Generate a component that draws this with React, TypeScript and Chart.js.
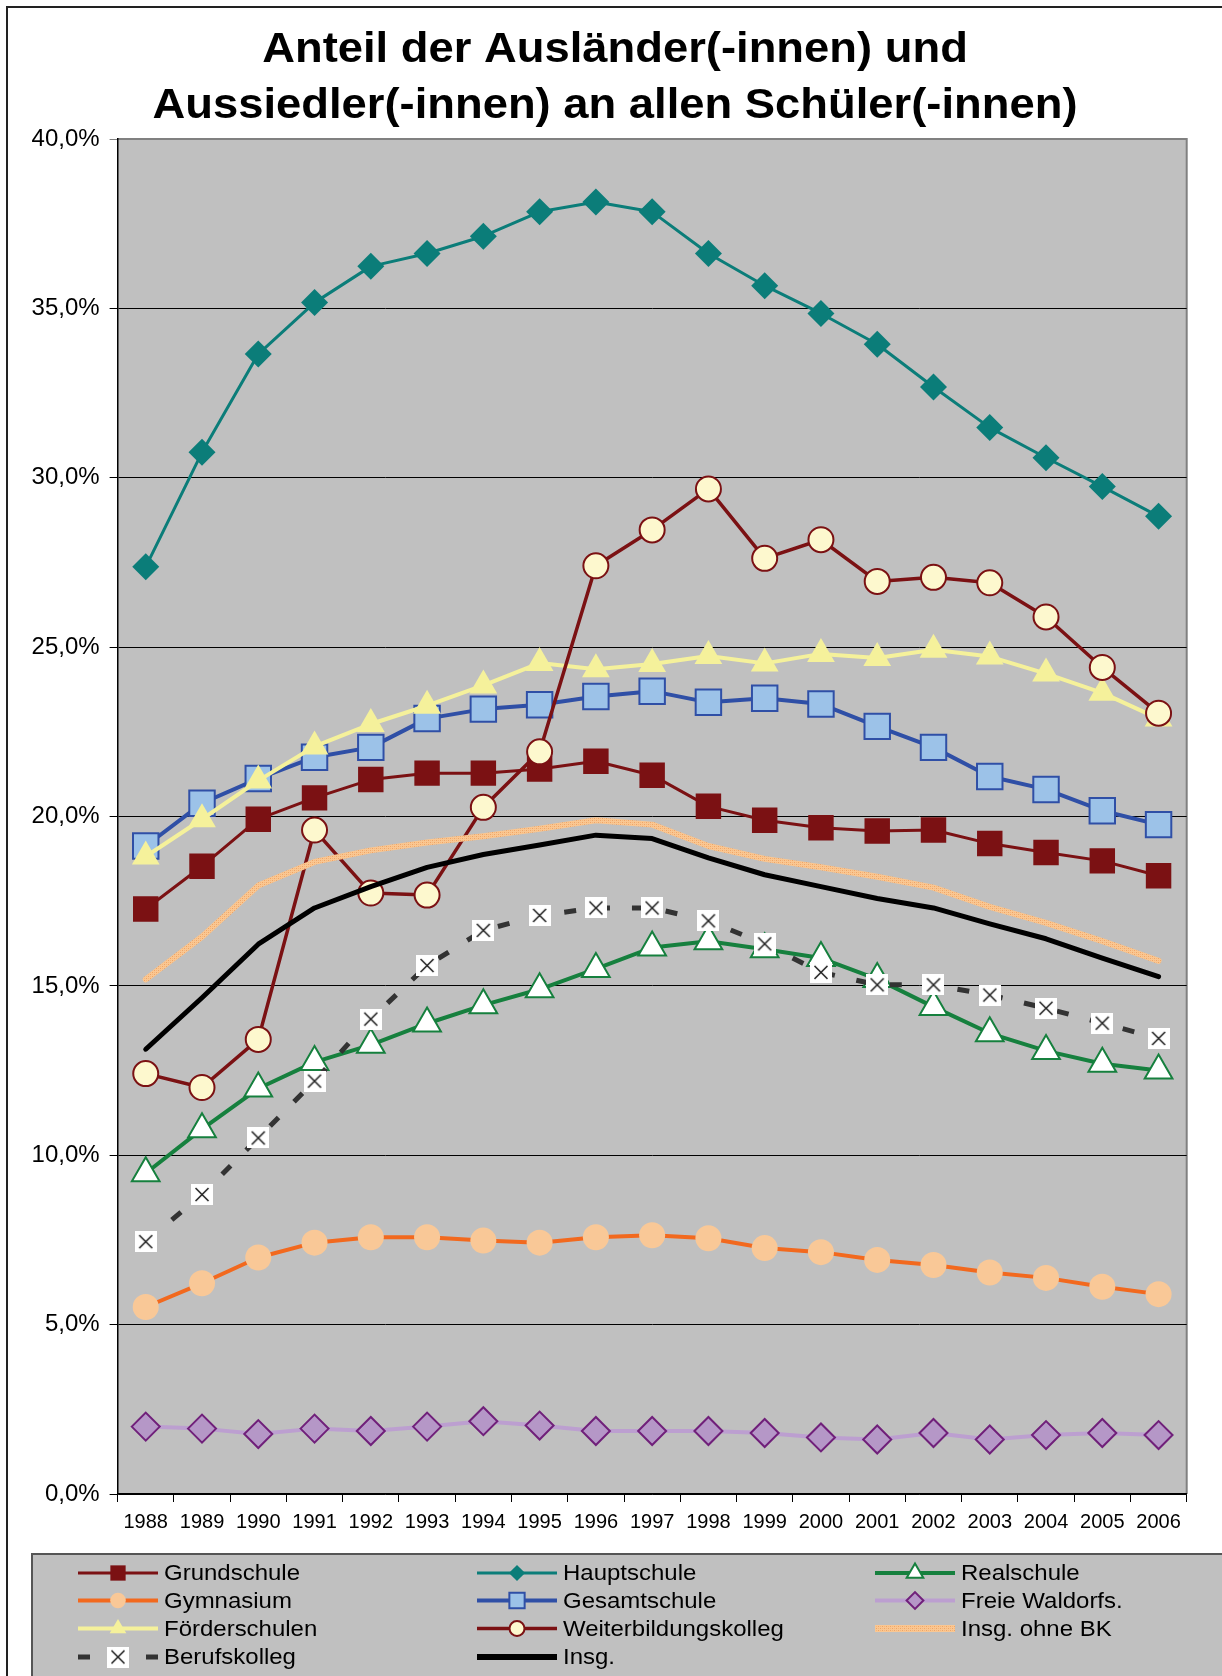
import React, { useEffect, useRef } from 'react';
import { Chart, registerables } from 'chart.js';
import { drawPoint } from 'chart.js/helpers';

Chart.register(...registerables);

const years = ['1988', '1989', '1990', '1991', '1992', '1993', '1994', '1995', '1996', '1997', '1998', '1999', '2000', '2001', '2002', '2003', '2004', '2005', '2006'];
const titleLines = ['Anteil der Ausländer(-innen) und', 'Aussiedler(-innen) an allen Schüler(-innen)'];
const yMin = 0;
const yMax = 40;
const yStep = 5;

const grundschule = [17.27, 18.53, 19.92, 20.55, 21.09, 21.28, 21.28, 21.40, 21.63, 21.22, 20.30, 19.89, 19.67, 19.57, 19.60, 19.20, 18.94, 18.69, 18.25];
const hauptschule = [27.37, 30.75, 33.65, 35.17, 36.24, 36.62, 37.13, 37.85, 38.14, 37.85, 36.62, 35.67, 34.85, 33.94, 32.68, 31.48, 30.59, 29.74, 28.86];
const realschule = [9.47, 10.77, 11.97, 12.75, 13.26, 13.89, 14.43, 14.90, 15.50, 16.13, 16.32, 16.08, 15.82, 15.20, 14.38, 13.60, 13.08, 12.70, 12.50];
const gymnasium = [5.52, 6.22, 6.98, 7.42, 7.58, 7.58, 7.48, 7.42, 7.58, 7.64, 7.55, 7.26, 7.14, 6.91, 6.76, 6.54, 6.38, 6.12, 5.90];
const gesamtschule = [19.13, 20.39, 21.12, 21.75, 22.04, 22.89, 23.17, 23.30, 23.54, 23.70, 23.37, 23.49, 23.32, 22.66, 22.04, 21.18, 20.80, 20.17, 19.76];
const freieWaldorfs = [1.99, 1.93, 1.77, 1.93, 1.86, 1.99, 2.15, 2.02, 1.86, 1.86, 1.86, 1.80, 1.67, 1.61, 1.80, 1.61, 1.74, 1.80, 1.74];
const foerderschulen = [18.82, 19.92, 21.06, 22.07, 22.73, 23.27, 23.87, 24.53, 24.35, 24.50, 24.74, 24.52, 24.80, 24.68, 24.92, 24.72, 24.22, 23.65, 22.89];
const weiterbildungskolleg = [12.41, 12.00, 13.42, 19.60, 17.74, 17.68, 20.27, 21.91, 27.40, 28.46, 29.67, 27.62, 28.17, 26.94, 27.06, 26.90, 25.89, 24.40, 23.05];
const insgOhneBK = [15.19, 16.45, 17.96, 18.66, 19.00, 19.23, 19.42, 19.64, 19.89, 19.76, 19.13, 18.75, 18.50, 18.22, 17.90, 17.33, 16.86, 16.32, 15.74];
const berufskolleg = [7.45, 8.84, 10.51, 12.19, 14.02, 15.60, 16.64, 17.08, 17.30, 17.30, 16.92, 16.24, 15.40, 15.03, 15.03, 14.73, 14.34, 13.90, 13.45];
const insg = [13.13, 14.65, 16.23, 17.30, 17.93, 18.50, 18.88, 19.16, 19.45, 19.35, 18.78, 18.28, 17.93, 17.58, 17.30, 16.83, 16.39, 15.82, 15.27];

const FONT = "'Liberation Sans', Arial, sans-serif";

function makeOrangePattern(): CanvasPattern | string {
  const c = document.createElement('canvas');
  c.width = 4;
  c.height = 4;
  const g = c.getContext('2d');
  if (!g) return '#F9C48C';
  g.fillStyle = '#FAC792';
  g.fillRect(0, 0, 4, 4);
  g.fillStyle = '#EFA466';
  g.fillRect(0, 0, 1, 1);
  g.fillRect(2, 2, 1, 1);
  g.fillStyle = '#F6B67A';
  g.fillRect(2, 0, 1, 1);
  g.fillRect(0, 2, 1, 1);
  return g.createPattern(c, 'repeat') || '#F9C48C';
}

function makeXBox(): HTMLCanvasElement {
  const c = document.createElement('canvas');
  c.width = 22;
  c.height = 21;
  const g = c.getContext('2d');
  if (g) {
    g.fillStyle = '#ffffff';
    g.fillRect(0, 0, 22, 21);
    g.strokeStyle = '#222222';
    g.lineWidth = 1.6;
    g.beginPath();
    g.moveTo(4.5, 4);
    g.lineTo(17.5, 17);
    g.moveTo(17.5, 4);
    g.lineTo(4.5, 17);
    g.stroke();
  }
  return c;
}

function stretchedText(ctx: CanvasRenderingContext2D, text: string, x: number, y: number, sx: number) {
  ctx.save();
  ctx.translate(x, y);
  ctx.scale(sx, 1);
  ctx.fillText(text, 0, 0);
  ctx.restore();
}

const decorPlugin = {
  id: 'decor',
  beforeDraw(chart: any) {
    const { ctx, chartArea } = chart;
    const { left, top, right, bottom } = chartArea;
    ctx.save();
    ctx.fillStyle = '#C0C0C0';
    ctx.fillRect(left, top, right - left, bottom - top);
    ctx.strokeStyle = '#808080';
    ctx.lineWidth = 2;
    ctx.beginPath();
    ctx.moveTo(left, top);
    ctx.lineTo(right, top);
    ctx.lineTo(right, bottom);
    ctx.stroke();
    ctx.restore();
  },
  afterDraw(chart: any) {
    const { ctx } = chart;
    ctx.save();
    // title
    ctx.fillStyle = '#000';
    ctx.font = `bold 43px ${FONT}`;
    ctx.textAlign = 'center';
    ctx.textBaseline = 'alphabetic';
    stretchedText(ctx, titleLines[0], 615, 62, 1.055);
    stretchedText(ctx, titleLines[1], 615, 118, 1.055);

    // legend box
    ctx.fillStyle = '#C0C0C0';
    ctx.fillRect(32, 1554, 1300, 200);
    ctx.strokeStyle = '#555';
    ctx.lineWidth = 2;
    ctx.strokeRect(32, 1554, 1300, 200);

    const cols = [78, 477, 875];
    const rows = [1573, 1600.5, 1628.5, 1657];
    chart.data.datasets.forEach((ds: any, i: number) => {
      const x0 = cols[i % 3];
      const y = rows[Math.floor(i / 3)];
      ctx.save();
      ctx.strokeStyle = ds.borderColor;
      ctx.lineWidth = ds.legendLineWidth || ds.borderWidth;
      ctx.setLineDash(ds.borderDash || []);
      ctx.lineCap = 'butt';
      ctx.beginPath();
      ctx.moveTo(x0, y);
      ctx.lineTo(x0 + 80, y);
      ctx.stroke();
      ctx.setLineDash([]);
      if (ds.pointRadius > 0) {
        ctx.fillStyle = ds.pointBackgroundColor;
        ctx.strokeStyle = ds.pointBorderColor;
        ctx.lineWidth = ds.pointBorderWidth || 0;
        drawPoint(ctx, {
          pointStyle: ds.pointStyle,
          rotation: 0,
          radius: ds.pointRadius * 0.6,
          borderWidth: ds.pointBorderWidth || 0,
        } as any, x0 + 40, y);
      }
      ctx.fillStyle = '#000';
      ctx.font = `22px ${FONT}`;
      ctx.textAlign = 'left';
      ctx.textBaseline = 'middle';
      stretchedText(ctx, ds.label, x0 + 86, y + 1, 1.09);
      ctx.restore();
    });

    // outer chart border
    ctx.strokeStyle = '#222';
    ctx.lineWidth = 2;
    ctx.beginPath();
    ctx.moveTo(7, 1700);
    ctx.lineTo(7, 7);
    ctx.lineTo(1240, 7);
    ctx.stroke();
    ctx.restore();
  },
};

export default function App() {
  const ref = useRef<HTMLCanvasElement>(null);

  useEffect(() => {
    document.body.style.margin = '0';
    document.body.style.overflow = 'hidden';
    if (!ref.current) return;
    const orange = makeOrangePattern();
    const xbox = makeXBox();

    const datasets: any[] = [
      {
        label: 'Grundschule', data: grundschule,
        borderColor: '#7B1113', borderWidth: 3,
        pointStyle: 'rect', pointRadius: 18,
        pointBackgroundColor: '#7B1113', pointBorderColor: '#7B1113', pointBorderWidth: 0,
      },
      {
        label: 'Hauptschule', data: hauptschule,
        borderColor: '#0B7D79', borderWidth: 3,
        pointStyle: 'rectRot', pointRadius: 13.5,
        pointBackgroundColor: '#0B7D79', pointBorderColor: '#0B7D79', pointBorderWidth: 0,
      },
      {
        label: 'Realschule', data: realschule,
        borderColor: '#16803E', borderWidth: 4,
        pointStyle: 'triangle', pointRadius: 16,
        pointBackgroundColor: '#FFFFFF', pointBorderColor: '#16803E', pointBorderWidth: 2,
      },
      {
        label: 'Gymnasium', data: gymnasium,
        borderColor: '#F2691E', borderWidth: 4,
        pointStyle: 'circle', pointRadius: 13,
        pointBackgroundColor: '#F9C897', pointBorderColor: '#F9C897', pointBorderWidth: 0,
      },
      {
        label: 'Gesamtschule', data: gesamtschule,
        borderColor: '#2F4FA6', borderWidth: 4,
        pointStyle: 'rect', pointRadius: 18,
        pointBackgroundColor: '#9CC2E8', pointBorderColor: '#2F4FA6', pointBorderWidth: 2,
      },
      {
        label: 'Freie Waldorfs.', data: freieWaldorfs,
        borderColor: '#BC9FD0', borderWidth: 4,
        pointStyle: 'rectRot', pointRadius: 14,
        pointBackgroundColor: '#B597C7', pointBorderColor: '#70207A', pointBorderWidth: 2,
      },
      {
        label: 'Förderschulen', data: foerderschulen,
        borderColor: '#F5F19B', borderWidth: 4,
        pointStyle: 'triangle', pointRadius: 16,
        pointBackgroundColor: '#F5F19B', pointBorderColor: '#F5F19B', pointBorderWidth: 0,
      },
      {
        label: 'Weiterbildungskolleg', data: weiterbildungskolleg,
        borderColor: '#7B1113', borderWidth: 3.5,
        pointStyle: 'circle', pointRadius: 12.5,
        pointBackgroundColor: '#FDF8CE', pointBorderColor: '#7B1113', pointBorderWidth: 2,
      },
      {
        label: 'Insg. ohne BK', data: insgOhneBK,
        borderColor: orange, borderWidth: 6, legendLineWidth: 7,
        pointRadius: 0,
      },
      {
        label: 'Berufskolleg', data: berufskolleg,
        borderColor: '#333333', borderWidth: 5, borderDash: [12, 22],
        pointStyle: xbox, pointRadius: 10,
        pointBackgroundColor: '#FFFFFF', pointBorderColor: '#333333', pointBorderWidth: 0,
      },
      {
        label: 'Insg.', data: insg,
        borderColor: '#000000', borderWidth: 5, legendLineWidth: 6,
        pointRadius: 0,
      },
    ];
    const n = datasets.length;
    datasets.forEach((d, i) => {
      d.order = n - i;
      d.fill = false;
      d.tension = 0;
      d.pointHoverRadius = d.pointRadius;
      d.borderJoinStyle = 'round';
      d.borderCapStyle = d.borderDash ? 'butt' : 'round';
    });

    const chart = new Chart(ref.current, {
      type: 'line',
      data: { labels: years, datasets },
      options: {
        animation: false,
        responsive: true,
        maintainAspectRatio: false,
        devicePixelRatio: 1,
        events: [],
        layout: { padding: { left: 0, top: 139, right: 35.3, bottom: 0 } },
        plugins: {
          legend: { display: false },
          title: { display: false },
          tooltip: { enabled: false },
        },
        scales: {
          x: {
            type: 'category',
            offset: true,
            grid: {
              offset: true,
              drawOnChartArea: false,
              drawTicks: true,
              tickLength: 8,
              color: '#000',
            },
            border: { color: '#000', width: 1.5 },
            ticks: {
              font: { size: 20, family: FONT },
              color: '#000',
              maxRotation: 0,
              autoSkip: false,
              padding: 8,
            },
            afterFit: (s: any) => { s.height = 182; },
          },
          y: {
            min: yMin,
            max: yMax,
            ticks: {
              stepSize: yStep,
              font: { size: 24, family: FONT },
              color: '#000',
              padding: 10,
              callback: (v: any) => Number(v).toFixed(1).replace('.', ',') + '%',
            },
            grid: {
              color: (c: any) => (c.tick && c.tick.value === yMax ? '#808080' : '#000'),
              lineWidth: 1,
              tickLength: 8,
              drawTicks: true,
            },
            border: { color: '#000', width: 1.5 },
            afterFit: (s: any) => { s.width = 117.6; },
          },
        },
      },
      plugins: [decorPlugin],
    });
    return () => chart.destroy();
  }, []);

  return (
    <div style={{ position: 'relative', width: 1222, height: 1676, background: '#fff' }}>
      <canvas ref={ref} />
    </div>
  );
}
